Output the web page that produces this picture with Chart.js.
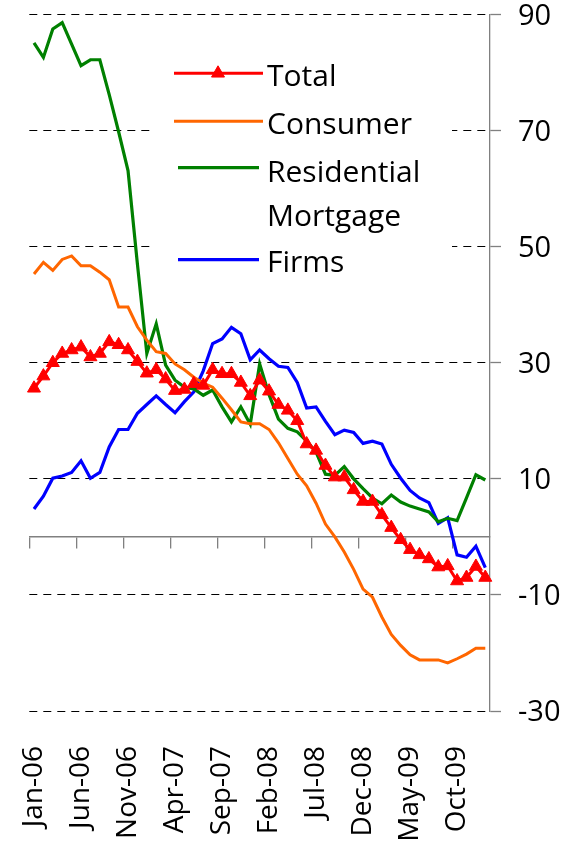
<!DOCTYPE html>
<html>
<head>
<meta charset="utf-8">
<title>Loan growth by sector</title>
<script src="https://cdn.jsdelivr.net/npm/chart.js@4.4.0/dist/chart.umd.min.js"></script>
<style>
    html, body { margin: 0; padding: 0; background: #ffffff; }
    #wrap { width: 583px; height: 853px; }
</style>
</head>
<body>
<div id="wrap"><canvas id="loanChart" width="583" height="853"></canvas></div>
<script>
// ===== DATA =====
var months = [
    'Jan-06', 'Feb-06', 'Mar-06', 'Apr-06', 'May-06', 'Jun-06', 'Jul-06', 'Aug-06', 'Sep-06', 'Oct-06', 'Nov-06', 'Dec-06',
    'Jan-07', 'Feb-07', 'Mar-07', 'Apr-07', 'May-07', 'Jun-07', 'Jul-07', 'Aug-07', 'Sep-07', 'Oct-07', 'Nov-07', 'Dec-07',
    'Jan-08', 'Feb-08', 'Mar-08', 'Apr-08', 'May-08', 'Jun-08', 'Jul-08', 'Aug-08', 'Sep-08', 'Oct-08', 'Nov-08', 'Dec-08',
    'Jan-09', 'Feb-09', 'Mar-09', 'Apr-09', 'May-09', 'Jun-09', 'Jul-09', 'Aug-09', 'Sep-09', 'Oct-09', 'Nov-09', 'Dec-09',
    'Jan-10'
];

var total = [
    25.6, 27.7, 30.0, 31.6, 32.2, 32.7, 31.0, 31.6, 33.6, 33.1, 32.2, 30.2,
    28.2, 28.8, 27.2, 25.2, 25.4, 26.4, 26.1, 28.8, 28.1, 28.1, 26.6, 24.3,
    27.0, 25.1, 22.8, 21.8, 20.0, 16.0, 14.9, 12.3, 10.3, 10.3, 8.1, 6.1,
    6.1, 3.8, 1.6, -0.5, -2.2, -3.1, -3.8, -5.2, -5.0, -7.6, -7.0, -5.1,
    -7.0
];

var consumer = [
    45.3, 47.3, 45.9, 47.8, 48.4, 46.7, 46.7, 45.6, 44.3, 39.6, 39.6, 36.2,
    33.9, 31.9, 31.6, 29.8, 28.8, 27.5, 26.5, 25.8, 23.9, 21.9, 19.8, 19.5,
    19.5, 18.5, 16.2, 13.5, 10.8, 8.8, 5.8, 2.2, 0.0, -2.6, -5.6, -9.0,
    -10.4, -13.8, -16.8, -18.7, -20.3, -21.2, -21.2, -21.2, -21.7, -21.0, -20.2, -19.2,
    -19.2
];

var mortgage = [
    85.1, 82.6, 87.5, 88.6, 84.9, 81.2, 82.2, 82.2, 76.2, 69.8, 63.1, 47.0,
    31.6, 36.7, 29.6, 27.0, 25.8, 25.5, 24.4, 25.3, 22.4, 19.8, 22.4, 19.4,
    29.8, 24.5, 20.3, 18.7, 18.1, 16.5, 14.6, 10.8, 10.6, 12.1, 10.0, 8.3,
    6.7, 5.7, 7.2, 6.0, 5.3, 4.8, 4.3, 2.6, 3.2, 2.8, 6.7, 10.7,
    9.8
];

var firms = [
    4.8, 7.0, 10.1, 10.5, 11.1, 13.1, 10.1, 11.1, 15.5, 18.5, 18.5, 21.3,
    22.8, 24.3, 22.8, 21.4, 23.3, 25.0, 28.6, 33.3, 34.1, 36.1, 35.0, 30.5,
    32.2, 30.7, 29.4, 29.2, 26.6, 22.2, 22.4, 19.9, 17.6, 18.4, 18.0, 16.1,
    16.5, 16.0, 12.5, 10.1, 8.0, 6.7, 5.9, 2.3, 3.3, -3.1, -3.5, -1.6,
    -5.3
];

var yMin = -30;
var yMax = 90;
var yStep = 20;
var labelEvery = 5;

(function() {
    'use strict';

    var FONT = "'Open Sans', 'Noto Sans', sans-serif";

    // Legend sits inside the plot on a white box (hides the gridlines behind it)
    var legendRows = [
        { lineFrom: 174, lineTo: 263, lineY: 73.3, baselines: [86] },
        { lineFrom: 174, lineTo: 263, lineY: 121.3, baselines: [133.5] },
        { lineFrom: 178, lineTo: 259, lineY: 167.7, baselines: [181.5, 225.7] },
        { lineFrom: 178, lineTo: 259, lineY: 259.7, baselines: [271.7] }
    ];

    var legendBox = {
        id: 'legendBox',
        beforeDatasetsDraw: function(chart) {
            var ctx = chart.ctx;
            ctx.save();
            ctx.fillStyle = '#ffffff';
            ctx.fillRect(153, 48, 299, 237);

            chart.data.datasets.forEach(function(ds, i) {
                var row = legendRows[i];
                ctx.strokeStyle = ds.borderColor;
                ctx.lineWidth = ds.borderWidth;
                ctx.setLineDash([]);
                ctx.beginPath();
                ctx.moveTo(row.lineFrom, row.lineY);
                ctx.lineTo(row.lineTo, row.lineY);
                ctx.stroke();

                if (ds.pointRadius > 0) {
                    var cx = (row.lineFrom + row.lineTo) / 2 - 0.5;
                    var r = ds.pointRadius;
                    ctx.fillStyle = ds.pointBackgroundColor;
                    ctx.beginPath();
                    ctx.moveTo(cx, row.lineY - r);
                    ctx.lineTo(cx + r * 0.866, row.lineY + r / 2);
                    ctx.lineTo(cx - r * 0.866, row.lineY + r / 2);
                    ctx.closePath();
                    ctx.fill();
                    ctx.lineWidth = 1;
                    ctx.stroke();
                }

                ctx.fillStyle = '#000000';
                ctx.font = '30px ' + FONT;
                ctx.textBaseline = 'alphabetic';
                ctx.textAlign = 'left';
                var words = row.baselines.length > 1 ? ds.label.split(' ') : [ds.label];
                words.forEach(function(w, k) {
                    ctx.fillText(w, 267, row.baselines[k]);
                });
            });
            ctx.restore();
        }
    };

    function renderChart() {
        var canvas = document.getElementById('loanChart');
        if (!canvas) return;
        if (typeof Chart === 'undefined') {
            console.warn('Chart.js not loaded');
            return;
        }

        var ctx = canvas.getContext('2d');
        new Chart(ctx, {
            type: 'line',
            data: {
                labels: months,
                datasets: [
                    {
                        label: 'Total',
                        data: total,
                        borderColor: '#FF0000',
                        borderWidth: 3,
                        pointStyle: 'triangle',
                        pointRadius: 7.5,
                        pointBackgroundColor: '#FF0000',
                        pointBorderColor: '#FF0000',
                        pointBorderWidth: 1,
                        tension: 0
                    },
                    {
                        label: 'Consumer',
                        data: consumer,
                        borderColor: '#FF6600',
                        borderWidth: 3,
                        pointRadius: 0,
                        tension: 0
                    },
                    {
                        label: 'Residential Mortgage',
                        data: mortgage,
                        borderColor: '#008000',
                        borderWidth: 3.2,
                        pointRadius: 0,
                        tension: 0
                    },
                    {
                        label: 'Firms',
                        data: firms,
                        borderColor: '#0000FF',
                        borderWidth: 3.2,
                        pointRadius: 0,
                        tension: 0
                    }
                ]
            },
            options: {
                responsive: false,
                devicePixelRatio: 1,
                animation: false,
                layout: { padding: { left: 29.3, top: 14.5, right: 0, bottom: 0 } },
                plugins: {
                    legend: { display: false },
                    tooltip: { enabled: false }
                },
                scales: {
                    x: {
                        type: 'category',
                        position: 'bottom',
                        offset: true,
                        grid: { display: false, drawTicks: false },
                        border: { display: false },
                        ticks: {
                            autoSkip: false,
                            maxRotation: 90,
                            minRotation: 90,
                            padding: 35,
                            color: '#000000',
                            font: { size: 28, family: FONT },
                            callback: function(value, index) {
                                return index % labelEvery === 0 ? months[index] : '';
                            }
                        },
                        afterFit: function(scale) {
                            scale.height = 142;
                            scale.paddingLeft = 0;
                            scale.paddingRight = 0;
                        }
                    },
                    xZero: {
                        type: 'category',
                        axis: 'x',
                        display: true,
                        position: { y: 0 },
                        offset: true,
                        grid: {
                            offset: true,
                            drawOnChartArea: false,
                            drawTicks: true,
                            tickLength: 11,
                            color: function(c) { return c.index % labelEvery === 0 ? '#808080' : 'rgba(0,0,0,0)'; },
                            lineWidth: function(c) { return c.index % labelEvery === 0 ? 1.3 : 0; }
                        },
                        border: { display: true, color: '#808080', width: 1.5 },
                        ticks: { display: false, autoSkip: false },
                        afterFit: function(scale) {
                            scale.paddingLeft = 0;
                            scale.paddingRight = 0;
                            scale.paddingTop = 0;
                            scale.paddingBottom = 0;
                        }
                    },
                    y: {
                        position: 'right',
                        min: yMin,
                        max: yMax,
                        grid: {
                            color: '#000000',
                            lineWidth: 1,
                            drawTicks: true,
                            tickLength: 11,
                            tickColor: '#808080',
                            tickWidth: 1.3,
                            tickBorderDash: []
                        },
                        border: { display: true, color: '#808080', width: 1.3, dash: [8, 6] },
                        ticks: {
                            stepSize: yStep,
                            padding: 17,
                            labelOffset: 2,
                            color: '#000000',
                            font: { size: 29, family: FONT }
                        },
                        afterFit: function(scale) {
                            scale.width = 93;
                            scale.paddingTop = 0;
                            scale.paddingBottom = 0;
                        }
                    }
                }
            },
            plugins: [legendBox]
        });
    }

    renderChart();
})();
</script>
</body>
</html>
